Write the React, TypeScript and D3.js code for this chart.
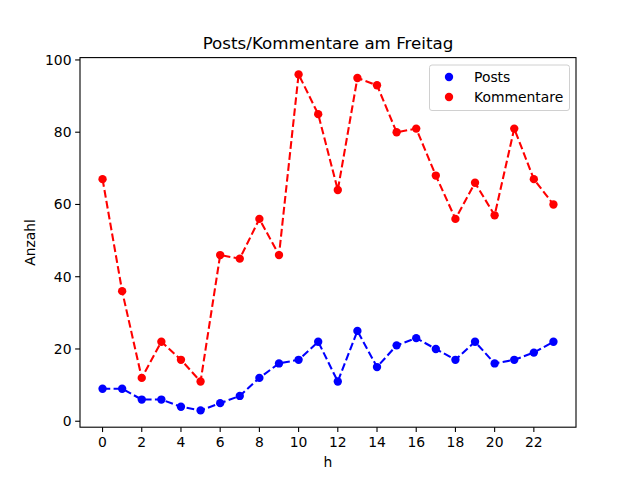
import { useEffect } from 'react'
import * as d3 from 'd3'

const hours = d3.range(0, 24)
const posts = [9, 9, 6, 6, 4, 3, 5, 7, 12, 16, 17, 22, 11, 25, 15, 21, 23, 20, 17, 22, 16, 17, 19, 22]
const kommentare = [67, 36, 12, 22, 17, 11, 46, 45, 56, 46, 96, 85, 64, 95, 93, 80, 81, 68, 56, 66, 57, 81, 67, 60]
const xTicks = [0, 2, 4, 6, 8, 10, 12, 14, 16, 18, 20, 22]
const yTicks = [0, 20, 40, 60, 80, 100]

const series = [
  { name: 'Posts', values: posts, color: '#0000ff' },
  { name: 'Kommentare', values: kommentare, color: '#ff0000' },
]

const W = 640
const H = 480
const margin = { top: 57.6, right: 64, bottom: 52.8, left: 80 }
const font = 'DejaVu Sans, sans-serif'

export default function App() {
  useEffect(() => {
    document.body.style.margin = '0'
  }, [])

  const x = d3.scaleLinear().domain([-1.15, 24.15]).range([margin.left, W - margin.right])
  const y = d3.scaleLinear().domain([-1.65, 100.65]).range([H - margin.bottom, margin.top])

  const line = d3
    .line<number>()
    .x((_, i) => x(hours[i]))
    .y((d) => y(d))

  const bottom = H - margin.bottom
  const left = margin.left

  return (
    <svg width={W} height={H} style={{ display: 'block', background: '#fff' }} fontFamily={font}>
      {/* Lines and markers */}
      {series.map((s) => (
        <g key={s.name}>
          <path d={line(s.values) || ''} fill="none" stroke={s.color} strokeWidth={2.08} strokeDasharray="7.7 3.33" />
          {s.values.map((v, i) => (
            <circle key={i} cx={x(hours[i])} cy={y(v)} r={4.17} fill={s.color} />
          ))}
        </g>
      ))}

      {/* Axes frame */}
      <rect
        x={margin.left}
        y={margin.top}
        width={W - margin.left - margin.right}
        height={H - margin.top - margin.bottom}
        fill="none"
        stroke="#000"
        strokeWidth={1.1}
      />

      {/* X ticks */}
      {xTicks.map((t) => (
        <g key={t} transform={`translate(${x(t)},${bottom})`}>
          <line y2={4.86} stroke="#000" strokeWidth={1.1} />
          <text y={19.5} textAnchor="middle" fontSize={13.9}>
            {t}
          </text>
        </g>
      ))}

      {/* Y ticks */}
      {yTicks.map((t) => (
        <g key={t} transform={`translate(${left},${y(t)})`}>
          <line x2={-4.86} stroke="#000" strokeWidth={1.1} />
          <text x={-8.5} dy="0.35em" textAnchor="end" fontSize={13.9}>
            {t}
          </text>
        </g>
      ))}

      {/* Labels */}
      <text x={(margin.left + W - margin.right) / 2} y={467} textAnchor="middle" fontSize={13.9}>
        h
      </text>
      <text
        transform={`translate(35,${(margin.top + bottom) / 2}) rotate(-90)`}
        textAnchor="middle"
        fontSize={13.9}
      >
        Anzahl
      </text>
      <text x={(margin.left + W - margin.right) / 2} y={49} textAnchor="middle" fontSize={16.7}>
        Posts/Kommentare am Freitag
      </text>

      {/* Legend */}
      <g>
        <rect x={429.5} y={65} width={140} height={45.5} rx={2.5} fill="#fff" fillOpacity={0.8} stroke="#d0d0d0" strokeWidth={1} />
        {series.map((s, i) => (
          <g key={s.name} transform={`translate(0,${77 + i * 20})`}>
            <circle cx={449} cy={0} r={4.17} fill={s.color} />
            <text x={474} dy="0.35em" fontSize={13.9}>
              {s.name}
            </text>
          </g>
        ))}
      </g>
    </svg>
  )
}
